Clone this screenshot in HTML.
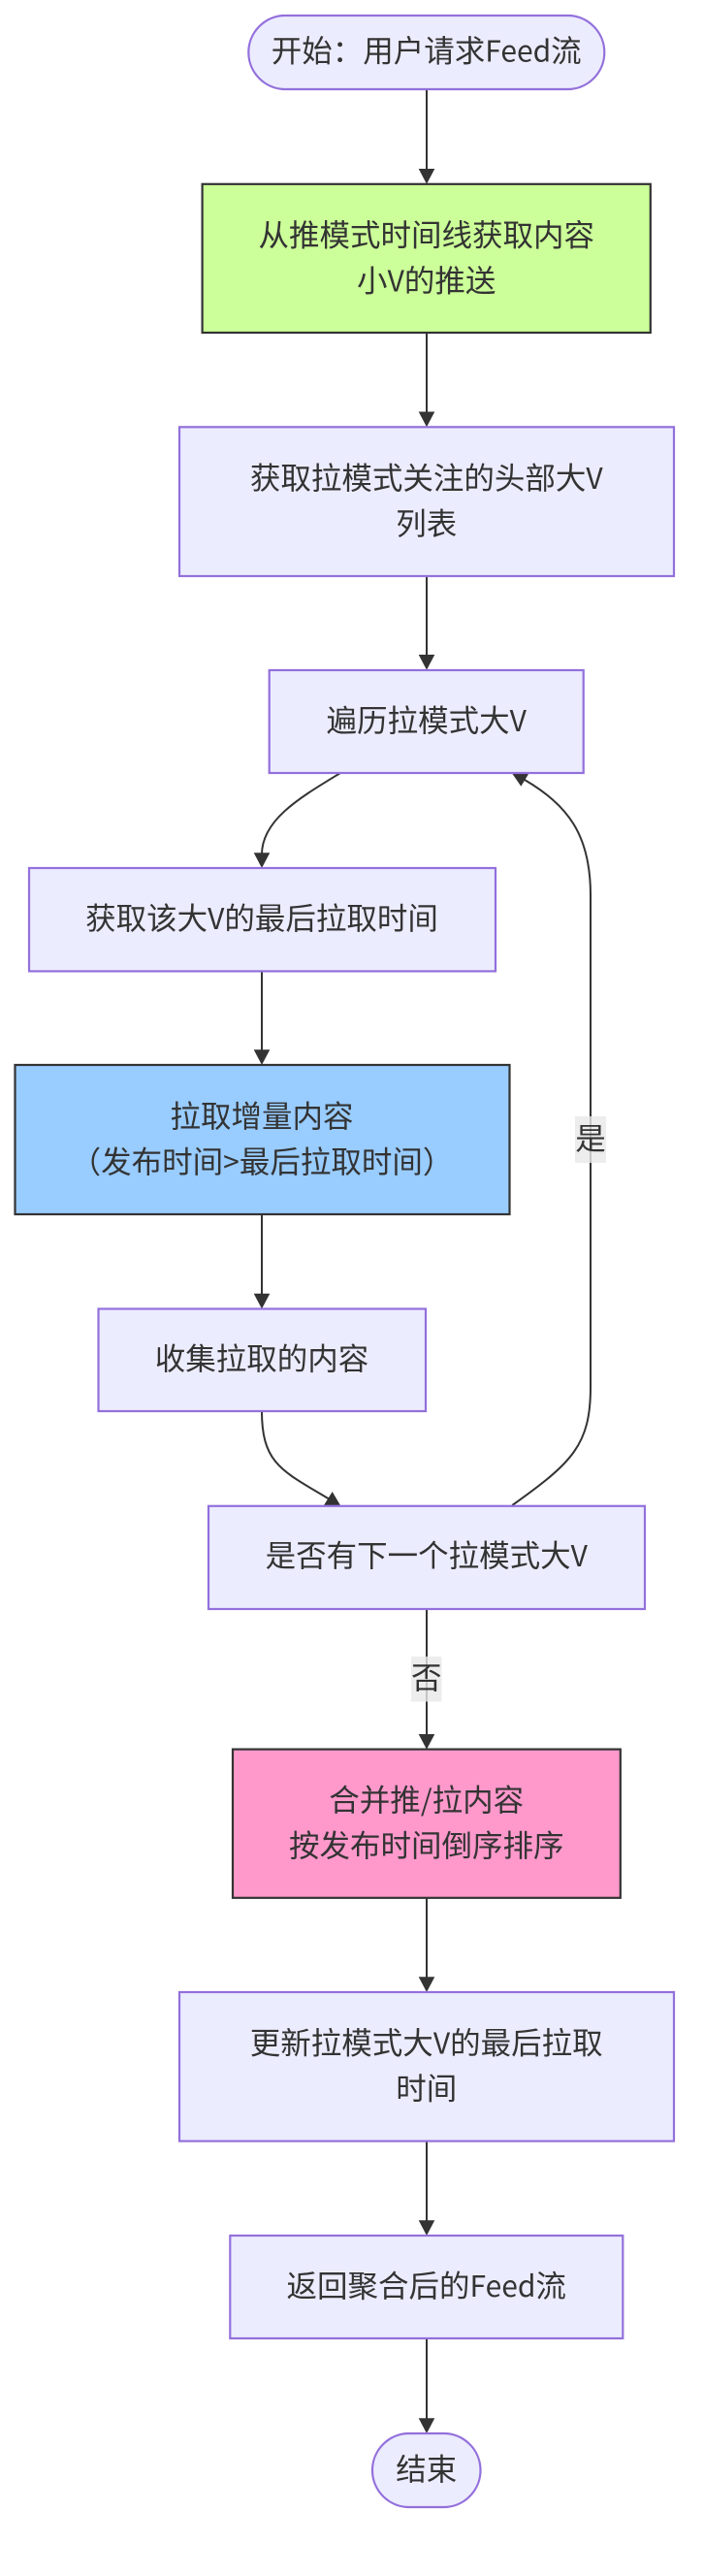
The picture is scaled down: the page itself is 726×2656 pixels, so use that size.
<!DOCTYPE html>
<html lang="zh">
<head>
<meta charset="utf-8">
<title>Feed流</title>
<style>
html,body{margin:0;padding:0;background:#fff;width:726px;height:2656px;overflow:hidden}
svg{display:block}
text{font-family:"Noto Sans CJK SC","WenQuanYi Zen Hei",sans-serif;font-size:31.5px;fill:#333;text-anchor:middle}
tspan{font-size:30px}
.e{fill:none;stroke:#333;stroke-width:2}
.a{fill:#333;stroke:none}
.n{fill:#ececff;stroke:#9370db;stroke-width:2.2}
.c{stroke:#333;stroke-width:2.2}
</style>
</head>
<body>
<svg width="726" height="2656" viewBox="0 0 726 2656" xmlns="http://www.w3.org/2000/svg">
<rect width="726" height="2656" fill="#fff"/>
<!-- edges -->
<path class="e" d="M440 92V176"/>
<path class="a" d="M431.7 174h16.6L440 189.7z"/>
<path class="e" d="M440 343V426"/>
<path class="a" d="M431.7 424.5h16.6L440 440.2z"/>
<path class="e" d="M440 594V677"/>
<path class="a" d="M431.7 675h16.6L440 690.7z"/>
<path class="e" d="M351 797C310 822 270 845 270 881"/>
<path class="a" d="M261.7 879.3h16.6L270 895z"/>
<path class="e" d="M270 1001.4V1084"/>
<path class="a" d="M261.7 1082.3h16.6L270 1098z"/>
<path class="e" d="M270 1252V1336"/>
<path class="a" d="M261.7 1333.8h16.6l-8.3 15.7z"/>
<path class="e" d="M270 1455C270 1510 292 1517 340 1546"/>
<path class="a" d="M342.7 1538L334 1552L351.7 1553.2z"/>
<path class="e" d="M528.3 1552C590 1508 609 1490 609 1430V923C609 860 585 830 541 804"/>
<path class="a" d="M527.5 796.5L545.9 796.6L537.3 810.8z"/>
<path class="e" d="M440 1659V1790"/>
<path class="a" d="M431.7 1788h16.6L440 1803.7z"/>
<path class="e" d="M440 1957V2040"/>
<path class="a" d="M431.7 2038.3h16.6L440 2054z"/>
<path class="e" d="M440 2207.6V2291"/>
<path class="a" d="M431.7 2289.3h16.6L440 2305z"/>
<path class="e" d="M440 2411V2495"/>
<path class="a" d="M431.7 2493.3h16.6L440 2509z"/>
<!-- edge labels -->
<rect x="593" y="1151" width="32" height="48" fill="rgba(232,232,232,.8)"/>
<text x="609" y="1185">是</text>
<rect x="424" y="1708" width="31.5" height="46.5" fill="rgba(232,232,232,.8)"/>
<text x="439.7" y="1741">否</text>
<!-- nodes -->
<rect class="n" x="256.3" y="16" width="367" height="76" rx="38" ry="38"/>
<text x="439.7" y="63.5">开始：用户请求<tspan>Feed</tspan>流</text>
<rect class="c" fill="#ccff99" x="208.6" y="189.8" width="462.2" height="153.2"/>
<text x="439.7" y="253.5">从推模式时间线获取内容</text>
<text x="439.7" y="300.5">小<tspan>V</tspan>的推送</text>
<rect class="n" x="185" y="440.3" width="510" height="153.7"/>
<text x="439.7" y="504">获取拉模式关注的头部大<tspan>V</tspan></text>
<text x="439.7" y="551">列表</text>
<rect class="n" x="277.7" y="691" width="324" height="106"/>
<text x="439.7" y="754">遍历拉模式大<tspan>V</tspan></text>
<rect class="n" x="30" y="895" width="481" height="106.4"/>
<text x="270" y="958">获取该大<tspan>V</tspan>的最后拉取时间</text>
<rect class="c" fill="#99ccff" x="15.5" y="1098" width="510" height="154"/>
<text x="270" y="1162">拉取增量内容</text>
<text x="270" y="1209">（发布时间<tspan>&gt;</tspan>最后拉取时间）</text>
<rect class="n" x="101.5" y="1349.5" width="337.5" height="105.5"/>
<text x="270" y="1412">收集拉取的内容</text>
<rect class="n" x="215" y="1552.8" width="450" height="106.2"/>
<text x="439.7" y="1615">是否有下一个拉模式大<tspan>V</tspan></text>
<rect class="c" fill="#ff99cc" x="240" y="1803.6" width="399.8" height="153.2"/>
<text x="439.7" y="1867">合并推<tspan>/</tspan>拉内容</text>
<text x="439.7" y="1914">按发布时间倒序排序</text>
<rect class="n" x="185" y="2054" width="510" height="153.6"/>
<text x="439.7" y="2117.5">更新拉模式大<tspan>V</tspan>的最后拉取</text>
<text x="439.7" y="2164.5">时间</text>
<rect class="n" x="237.3" y="2305" width="405" height="106"/>
<text x="439.7" y="2368">返回聚合后的<tspan>Feed</tspan>流</text>
<rect class="n" x="384" y="2509" width="111.5" height="76" rx="38" ry="38"/>
<text x="439.7" y="2557">结束</text>
</svg>
</body>
</html>
